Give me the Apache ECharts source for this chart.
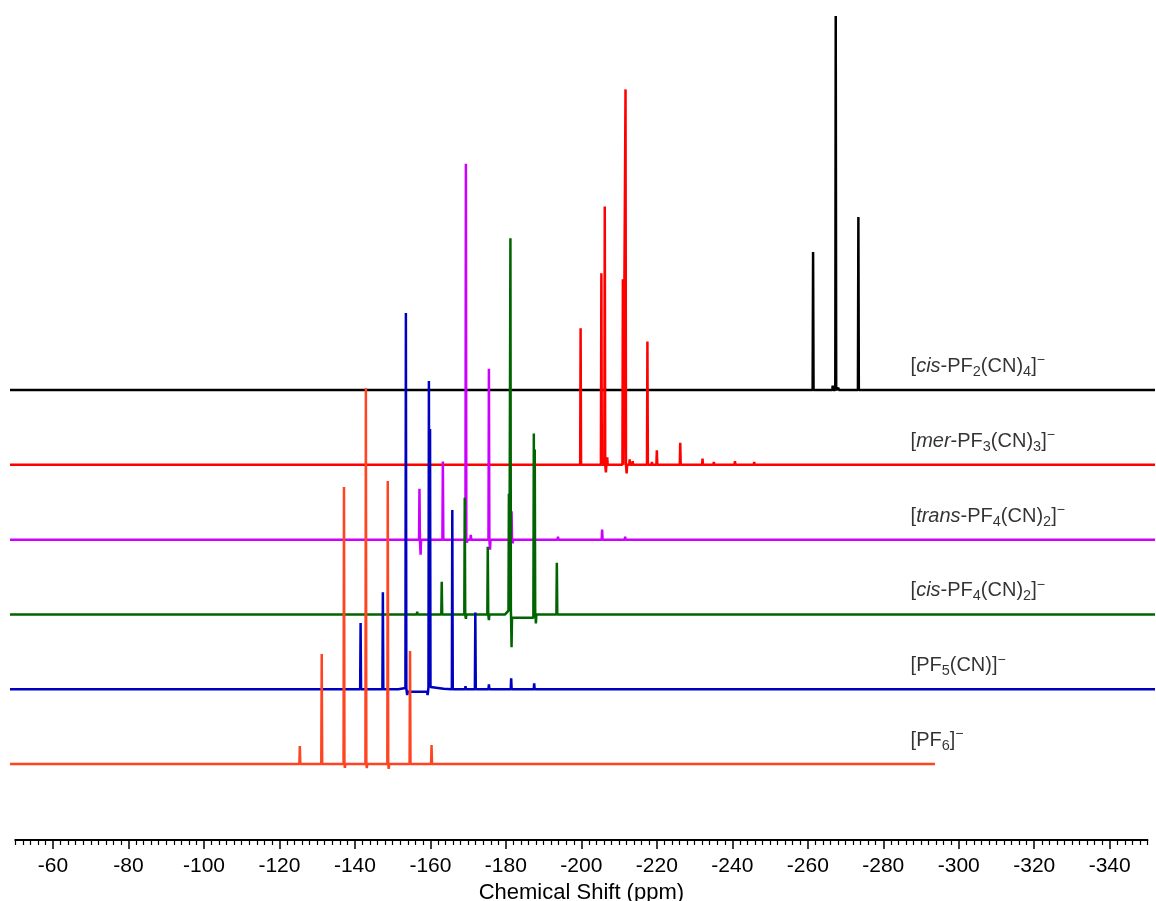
<!DOCTYPE html>
<html><head><meta charset="utf-8">
<script src="https://cdn.jsdelivr.net/npm/echarts@6/dist/echarts.min.js"></script>
<style>html,body{margin:0;padding:0;background:#fff}#c{width:1156px;height:901px}</style>
</head><body><div id="c"></div>
<script>
// ---------- data ----------
const xTickLabels = [-60,-80,-100,-120,-140,-160,-180,-200,-220,-240,-260,-280,-300,-320,-340];
const xMinorStep = 2;
const spectrumNames = [
  '{b|[}{i|cis}{b|-PF}{s|2}{b|(CN)}{s|4}{b|]}{p|−}',
  '{b|[}{i|mer}{b|-PF}{s|3}{b|(CN)}{s|3}{b|]}{p|−}',
  '{b|[}{i|trans}{b|-PF}{s|4}{b|(CN)}{s|2}{b|]}{p|−}',
  '{b|[}{i|cis}{b|-PF}{s|4}{b|(CN)}{s|2}{b|]}{p|−}',
  '{b|[PF}{s|5}{b|(CN)]}{p|−}',
  '{b|[PF}{s|6}{b|]}{p|−}'
];
const spectrumColors = ['#000000','#ff0000','#cc00ff','#006400','#0000c0','#ff4422'];
const baselineOffsets = [100, 80, 60, 40, 20, 0];
const spectrumRanges = [[-48.6,-352],[-48.6,-352],[-48.6,-352],[-48.6,-352],[-48.6,-352],[-48.6,-293.7]];

// peaks: [ppm, height, base]
const peaksCisPF2CN4 = [[-261.4,36.9],[-266.6,1.2],[-267.4,100],[-268.1,0.6],[-273.4,46.3]];
const peaksMerPF3CN3 = [[-169.2,0.5],[-175.3,0.5],[-199.8,36.5],[-205.3,51.2],[-206.2,69.1],[-206.5,-2.0],[-206.85,2.0],
  [-211.0,49.6],[-211.7,100.4],[-212.0,-2.3],[-212.8,1.5],[-213.6,1.0],[-217.5,33.0],[-218.7,0.8],[-220.0,3.9],
  [-226.2,5.9],[-232.1,1.7],[-235.1,0.8],[-240.7,1.0],[-245.8,0.8]];
const peaksTransPF4CN2 = [[-157.1,13.6],[-157.4,-4.0],[-163.3,20.9],[-169.4,100.5],[-169.7,-0.8],[-170.7,1.3],
  [-175.5,45.7],[-175.8,-2.7],[-181.5,7.6],[-181.8,-1.0],[-187.5,0.8],[-193.8,0.8],[-199.6,0.5],[-205.5,2.7],[-211.6,0.8]];
const peaksCisPF4CN2 = [[-156.5,0.7],[-163.0,8.7],[-169.1,31.2],[-169.4,-1.2],[-175.2,18.1],[-175.5,-1.5],
  [-180.8,31.3,1.0],[-181.2,99.6,1.0],[-181.5,-7.9,-0.9],[-187.4,49.3,-0.9],[-187.65,45,-0.9],[-187.95,-2.4],[-193.5,13.8]];
const baseCisPF4CN2 = [[-179.8,0]];
const peaksPF5CN = [[-141.5,17.7],[-147.4,25.9],[-153.5,100.3,0.3],[-153.85,-0.9,-0.7],[-159.25,-0.9,-0.7],
  [-159.6,81.8,0.6],[-159.9,69.0,0.6],[-165.8,47.9],[-169.3,0.8],[-171.9,20.5],[-175.5,1.3],[-181.4,2.9],[-187.5,1.6],[-193.8,0.5]];
const basePF5CN = [[-151.5,0],[-161.5,0.4],[-163.5,0.1]];
const peaksPF6 = [[-125.4,4.8],[-131.2,29.4],[-137.1,74.1],[-137.35,-1.0],[-142.9,100.5],[-143.15,-1.1],
  [-148.7,75.7],[-148.95,-1.3],[-154.6,30.2],[-160.3,5.1]];

const allPeaks = [peaksCisPF2CN4, peaksMerPF3CN3, peaksTransPF4CN2, peaksCisPF4CN2, peaksPF5CN, peaksPF6];
const allBase = [[], [], [], baseCisPF4CN2, basePF5CN, []];

// ---------- build ----------
const FONT = '"Liberation Sans", Arial, sans-serif';
function buildLine(range, peaks, extra, off) {
  const w = 0.12;
  const pts = [[range[0], 0], [range[1], 0]];
  extra.forEach(p => pts.push([p[0], p[1]]));
  peaks.forEach(p => { const b = p[2] || 0; pts.push([p[0] + w, b], [p[0], b + p[1]], [p[0] - w, b]); });
  pts.sort((a, b) => b[0] - a[0]);
  return pts.map(p => [p[0], p[1] + off]);
}
const majorTicks = xTickLabels.slice();
const minorTicks = [];
for (let v = -50; v >= -350; v -= xMinorStep) { if (majorTicks.indexOf(v) < 0) minorTicks.push(v); }

const labelPpm = -287.1, labelLift = 6.3;
const rich = {
  b: {fontSize: 20, fontFamily: FONT, color: '#000', lineHeight: 26},
  i: {fontSize: 20, fontFamily: FONT, color: '#000', fontStyle: 'italic', lineHeight: 26},
  s: {fontSize: 14.5, fontFamily: FONT, color: '#000', lineHeight: 16, verticalAlign: 'bottom'},
  p: {fontSize: 14, fontFamily: FONT, color: '#000', lineHeight: 14, verticalAlign: 'top'}
};

const series = [];
allPeaks.forEach((pk, i) => {
  series.push({
    type: 'line', xAxisIndex: 0, yAxisIndex: 0, symbol: 'none', silent: true,
    lineStyle: {color: spectrumColors[i], width: 2.5},
    data: buildLine(spectrumRanges[i], pk, allBase[i], baselineOffsets[i]),
    z: 2 + i
  });
});
series.push({
  type: 'scatter', xAxisIndex: 0, yAxisIndex: 0, symbolSize: 1, silent: true,
  itemStyle: {color: 'rgba(0,0,0,0)'},
  label: {show: true, position: 'right', distance: 0, rich: rich},
  data: spectrumNames.map((n, i) => ({value: [labelPpm, baselineOffsets[i] + labelLift], label: {formatter: n}})),
  z: 20
});

const chart = echarts.init(document.getElementById('c'), null, {renderer: 'canvas'});
chart.setOption({
  animation: false,
  backgroundColor: '#fff',
  grid: [
    {left: 10, right: 1, top: 0, bottom: 61, containLabel: false, outerBoundsMode: 'none'},
    {left: 15.28, right: 8.55, top: 0, bottom: 61, containLabel: false, outerBoundsMode: 'none'},
    {left: 15.28, right: 8.55, top: 0, bottom: 61, containLabel: false, outerBoundsMode: 'none'}
  ],
  xAxis: [
    {gridIndex: 0, type: 'value', min: -352, max: -48.6, inverse: true, show: false},
    {gridIndex: 1, type: 'value', min: -350, max: -50, inverse: true, position: 'bottom',
      axisLine: {show: true, onZero: false, lineStyle: {color: '#000', width: 2}},
      axisTick: {show: true, inside: false, length: 9, lineStyle: {color: '#000', width: 1.5}, customValues: majorTicks},
      axisLabel: {show: true, customValues: xTickLabels, fontSize: 21, color: '#000', margin: 16, fontFamily: FONT},
      splitLine: {show: false},
      name: 'Chemical Shift (ppm)', nameLocation: 'middle', nameGap: 34,
      nameTextStyle: {fontSize: 22, color: '#000', fontFamily: FONT}},
    {gridIndex: 2, type: 'value', min: -350, max: -50, inverse: true, position: 'bottom',
      axisLine: {show: false, onZero: false},
      axisTick: {show: true, inside: false, length: 5, lineStyle: {color: '#000', width: 1.2}, customValues: minorTicks},
      axisLabel: {show: false}, splitLine: {show: false}}
  ],
  yAxis: [
    {gridIndex: 0, type: 'value', min: -20.32, max: 204.3, show: false},
    {gridIndex: 1, type: 'value', show: false},
    {gridIndex: 2, type: 'value', show: false}
  ],
  series: series
});
</script></body></html>
